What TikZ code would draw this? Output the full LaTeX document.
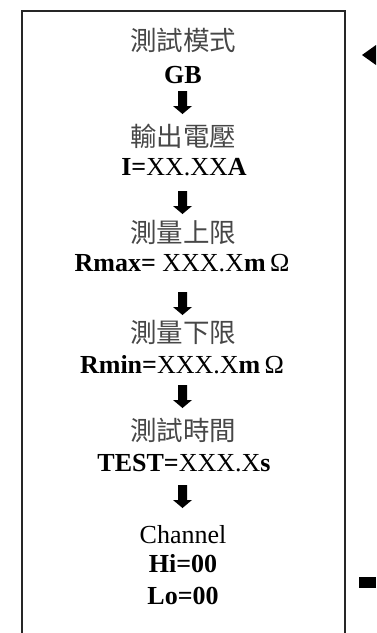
\documentclass[tikz,border=0pt]{standalone}
\usepackage{fontspec}
\setmainfont{Liberation Serif}
\newfontfamily\cjk{Noto Sans CJK TC}
\begin{document}
\begin{tikzpicture}[x=1pt,y=-1pt,
  frame/.style={line width=1.8pt,draw=black!85},
  title/.style={inner sep=0pt,anchor=center,text=black!72,
    font=\cjk\fontsize{26.5}{30}\selectfont},
  value/.style={inner sep=0pt,anchor=base,
    font=\fontsize{26}{30}\selectfont},
  blockarrow/.pic={\fill (-4.5,0) -- (4.5,0) -- (4.5,15) -- (9.5,15)
    -- (0,23) -- (-9.5,15) -- (-4.5,15) -- cycle;}]
\useasboundingbox (0,0) rectangle (376,633);

% open frame of the settings menu (runs on past the lower edge)
\draw[frame] (22,633) -- (22,11) -- (345,11) -- (345,633);

% menu entries
\node[title] (mode)  at (183,40)  {測試模式};
\node[value] (gb)    at (183,83)  {\textbf{GB}};
\pic at (182.5,91) {blockarrow};

\node[title] (out)   at (183,136) {輸出電壓};
\node[value] (cur)   at (184,175) {\textbf{I=}XX.XX\textbf{A}};
\pic at (182.5,191) {blockarrow};

\node[title] (upper) at (183,232) {測量上限};
\node[value] (rmax)  at (182,271) {\textbf{Rmax=} XXX.X\textbf{m}\,Ω};
\pic at (182.5,292) {blockarrow};

\node[title] (lower) at (183,332) {測量下限};
\node[value] (rmin)  at (182,373) {\textbf{Rmin=}XXX.X\textbf{m}\,Ω};
\pic at (182.5,385) {blockarrow};

\node[title] (time)  at (183,430) {測試時間};
\node[value] (test)  at (184,471) {\textbf{TEST=}XXX.X\textbf{s}};
\pic at (182.5,485) {blockarrow};

\node[value] (chan)  at (183,543) {Channel};
\node[value] (hi)    at (183,572) {\textbf{Hi=00}};
\node[value] (lo)    at (183,604) {\textbf{Lo=00}};

% return path of the loop: arrow head entering at the top, stub at the bottom
\coordinate (loopin)  at (376,55);
\coordinate (loopout) at (359,582);
\fill (loopin) ++(0,-10) -- (362,55) -- (376,65) -- cycle;
\fill (loopout) ++(0,-5.5) rectangle (376,587.5);
\end{tikzpicture}
\end{document}
